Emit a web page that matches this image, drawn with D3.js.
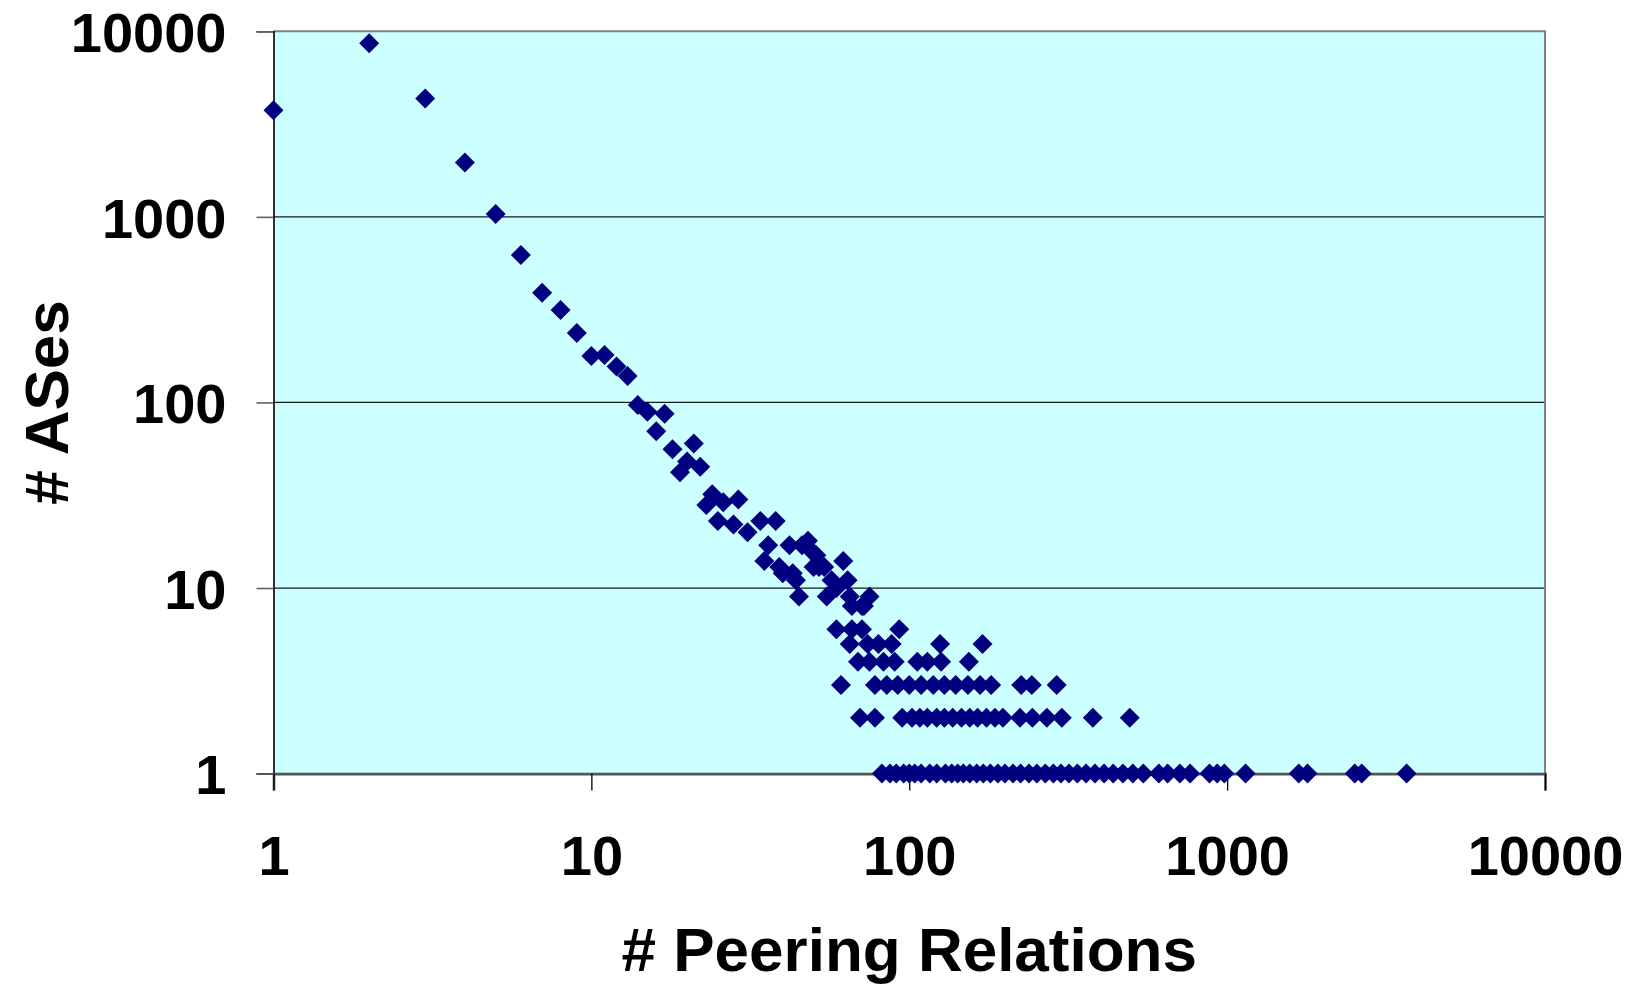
<!DOCTYPE html>
<html>
<head>
<meta charset="utf-8">
<script src="https://cdn.jsdelivr.net/npm/d3@7"></script>
<style>
  body { margin: 0; background: #fff; }
  text { font-family: "Liberation Sans", Arial, sans-serif; font-weight: bold; fill: #000; }
</style>
</head>
<body>
<div id="chart"></div>
<script>
// tick values for both log axes
const xTicks = [1, 10, 100, 1000, 10000];
const yTicks = [1, 10, 100, 1000, 10000];

// steep part of the distribution: peering relations -> number of ASes
const headPeers = [1, 2, 3, 4, 5, 6, 7, 8, 9, 10, 11, 12, 13, 14, 15, 16, 17, 18, 19, 20, 21, 22];
const headAses = [3760, 8610, 4350, 1966, 1035, 623, 390, 315, 237, 178, 180, 156, 139, 97, 89, 70, 87, 56, 42, 48, 60, 45];

// scattered middle part
const midPeers = [23, 24, 25, 26, 28, 29, 31, 34, 35, 36, 38, 39, 40, 42, 43, 44, 45, 46, 48, 49, 50, 51, 52, 54, 55, 57, 59, 62, 64, 65, 66, 71, 72, 75];
const midAses = [28, 32, 23, 29, 22, 30, 20, 23, 14, 17, 23, 13, 12, 17, 12, 11, 9, 17, 18, 16, 13, 15, 13, 13, 9, 11, 10, 14, 11, 9, 8, 8, 8, 9];

// flat rows of the tail (count of ASes is the same for each row)
const peersWith6 = [59, 66, 71, 93];
const peersWith5 = [65, 74, 80, 88, 125, 170];
const peersWith4 = [69, 75, 83, 90, 106, 114, 126, 154];
const peersWith3 = [61, 78, 85, 92, 100, 109, 119, 129, 140, 153, 167, 181, 225, 243, 291];
const peersWith2 = [70, 78, 95, 102, 108, 114, 122, 129, 137, 146, 155, 164, 175, 186, 197, 223, 244, 271, 302, 378, 494];
const peersWith1 = [82, 87, 91, 96, 100, 104, 109, 116, 122, 130, 136, 142, 148, 155, 163, 171, 180, 190, 200, 212, 224, 238, 252, 268, 284, 300, 318, 338, 360, 384, 410, 438, 470, 505, 545, 610, 650, 710, 765, 880, 930, 980, 1143, 1680, 1790, 2520, 2650, 3670];

const width = 1637,
    height = 984;
const plot = { left: 273.5, right: 1545, top: 31.3, bottom: 773.6 };

// collect everything into one list of points
const points = [];
headPeers.forEach((p, i) => points.push({ peers: p, ases: headAses[i] }));
midPeers.forEach((p, i) => points.push({ peers: p, ases: midAses[i] }));
[[6, peersWith6], [5, peersWith5], [4, peersWith4], [3, peersWith3], [2, peersWith2], [1, peersWith1]]
    .forEach(([n, arr]) => arr.forEach((p) => points.push({ peers: p, ases: n })));

const x = d3.scaleLog().domain([1, 10000]).range([plot.left, plot.right]);
const y = d3.scaleLog().domain([1, 10000]).range([plot.bottom, plot.top]);

const svg = d3
    .select("#chart")
    .append("svg")
    .attr("width", width)
    .attr("height", height);

// plot area background
svg.append("rect")
    .attr("x", plot.left)
    .attr("y", plot.top)
    .attr("width", plot.right - plot.left)
    .attr("height", plot.bottom - plot.top)
    .attr("fill", "#ccffff");

// horizontal gridlines
svg.append("g")
    .selectAll("line")
    .data(yTicks.filter((d) => d > 1 && d < 10000))
    .enter()
    .append("line")
    .attr("x1", plot.left)
    .attr("x2", plot.right)
    .attr("y1", (d) => y(d))
    .attr("y2", (d) => y(d))
    .attr("stroke", "#1a1a1a")
    .attr("stroke-width", 1.2);

// plot area border (top and right, grey)
svg.append("path")
    .attr("d", `M${plot.left},${plot.top}H${plot.right}V${plot.bottom}`)
    .attr("fill", "none")
    .attr("stroke", "#808080")
    .attr("stroke-width", 2);

// y axis
const yAxis = svg
    .append("g")
    .attr("transform", `translate(${plot.left},0)`)
    .call(d3.axisLeft(y).tickValues(yTicks).tickFormat(d3.format("d")).tickSize(17).tickPadding(30));
yAxis.select(".domain").attr("stroke", "#000").attr("stroke-width", 1.6);
yAxis.selectAll(".tick line").attr("stroke", "#606060").attr("stroke-width", 1.6);
yAxis.selectAll(".tick text")
    .attr("font-size", 56)
    .attr("font-family", "'Liberation Sans', Arial, sans-serif")
    .attr("font-weight", "bold")
    .attr("dy", "0.36em");

// x axis
const xAxis = svg
    .append("g")
    .attr("transform", `translate(0,${plot.bottom})`)
    .call(d3.axisBottom(x).tickValues(xTicks).tickFormat(d3.format("d")).tickSize(17));
xAxis.select(".domain").attr("stroke", "#555").attr("stroke-width", 2.6);
xAxis.selectAll(".tick line").attr("stroke", "#000").attr("stroke-width", 1.3);
xAxis.selectAll(".tick text")
    .attr("font-size", 56)
    .attr("font-family", "'Liberation Sans', Arial, sans-serif")
    .attr("font-weight", "bold")
    .attr("y", 0)
    .attr("dy", 0)
    .attr("transform", "translate(0,101)");

// markers
svg.append("g")
    .selectAll("path")
    .data(points)
    .enter()
    .append("path")
    .attr("d", "M0,-10L10,0L0,10L-10,0Z")
    .attr("transform", (d) => `translate(${x(d.peers)},${y(d.ases)})`)
    .attr("fill", "#000080");

// axis titles
svg.append("text")
    .attr("x", (plot.left + plot.right) / 2)
    .attr("y", 971)
    .attr("text-anchor", "middle")
    .attr("font-size", 62)
    .text("# Peering Relations");

svg.append("text")
    .attr("transform", `translate(68,${(plot.top + plot.bottom) / 2}) rotate(-90)`)
    .attr("text-anchor", "middle")
    .attr("font-size", 62)
    .text("# ASes");
</script>
</body>
</html>
